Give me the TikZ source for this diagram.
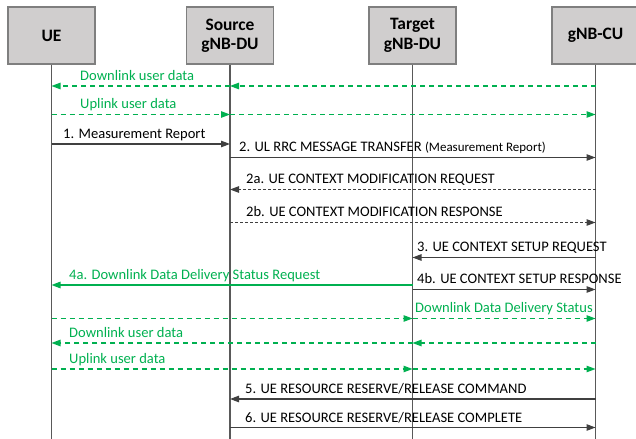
\documentclass[tikz,border=0pt]{standalone}
\usepackage{fontspec}
\setmainfont{Carlito}
\usetikzlibrary{arrows.meta}
\definecolor{boxfill}{HTML}{D0CECE}
\definecolor{boxline}{HTML}{7F7F7F}
\definecolor{lifegray}{HTML}{595959}
\definecolor{msgdark}{HTML}{404040}
\definecolor{msggreen}{HTML}{00B050}
\begin{document}
\begin{tikzpicture}[x=1bp,y=-1bp,
  entity/.style={draw=boxline,fill=boxfill,line width=1.2bp,minimum width=87bp,
    minimum height=57bp,align=center,font=\fontsize{17.5}{19.5}\selectfont\bfseries},
  life/.style={draw=lifegray,line width=1.3bp},
  msg/.style={draw=msgdark,line width=1.1bp,-{Triangle[length=9bp,width=6.5bp]}},
  reply/.style={msg,dash pattern=on 3bp off 2bp},
  data/.style={msg,draw=msggreen,dash pattern=on 5bp off 4bp},
  lbl/.style={anchor=base west,inner sep=0pt,font=\fontsize{14.6}{16}\selectfont}]
\useasboundingbox (0,0) rectangle (636,439);
% entities and lifelines
\node[entity] (ue)  at (51.5,35.5)  {UE};
\node[entity] (src) at (230,35.5)   {Source\\gNB-DU};
\node[entity] (tgt) at (412.5,35.5) {Target\\gNB-DU};
\node[entity] (cu)  at (595.5,35.5) {gNB-CU};
\foreach \n in {ue,src,tgt,cu}
  \draw[life] (\n.south) -- (\n |- 0,439);
% user data before handover
\draw[data] (cu |- 0,86) -- (src |- 0,86);
\draw[data] (src |- 0,86) -- (ue |- 0,86);
\node[lbl,msggreen] (dl1) at (80,80.5) {Downlink user data};
\draw[data] (ue |- 0,114.5) -- (src |- 0,114.5);
\draw[data] (src |- 0,114.5) -- (cu |- 0,114.5);
\node[lbl,msggreen] (ul1) at (80,109) {Uplink user data};
% measurement and context modification
\draw[msg] (ue |- 0,144) -- (src |- 0,144);
\node[lbl] (m1) at (63,138.5) {1. Measurement Report};
\draw[msg] (src |- 0,157.5) -- (cu |- 0,157.5);
\node[lbl] (m2) at (239,152) {2. UL RRC MESSAGE TRANSFER {\fontsize{13}{14}\selectfont(Measurement Report)}};
\draw[reply] (cu |- 0,189.5) -- (src |- 0,189.5);
\node[lbl] (m2a) at (246,184) {2a. UE CONTEXT MODIFICATION REQUEST};
\draw[reply] (src |- 0,222.5) -- (cu |- 0,222.5);
\node[lbl] (m2b) at (246,217) {2b. UE CONTEXT MODIFICATION RESPONSE};
% context setup at target
\draw[msg] (cu |- 0,257.5) -- (tgt |- 0,257.5);
\node[lbl] (m3) at (417,252) {3. UE CONTEXT SETUP REQUEST};
\draw[msg,draw=msggreen,line width=1.3bp] (tgt |- 0,285) -- (ue |- 0,285);
\node[lbl,msggreen] (m4a) at (69,279.5) {4a. Downlink Data Delivery Status Request};
\draw[msg] (tgt |- 0,289.5) -- (cu |- 0,289.5);
\node[lbl] (m4b) at (417,284) {4b. UE CONTEXT SETUP RESPONSE};
% user data after handover
\draw[data] (ue |- 0,318.5) -- (tgt |- 0,318.5);
\draw[data] (tgt |- 0,318.5) -- (cu |- 0,318.5);
\node[lbl,msggreen] (ddds) at (415,313) {Downlink Data Delivery Status};
\draw[data] (cu |- 0,343) -- (tgt |- 0,343);
\draw[data] (tgt |- 0,343) -- (ue |- 0,343);
\node[lbl,msggreen] (dl2) at (69,337.5) {Downlink user data};
\draw[data] (ue |- 0,369) -- (tgt |- 0,369);
\draw[data] (tgt |- 0,369) -- (cu |- 0,369);
\node[lbl,msggreen] (ul2) at (69,363.5) {Uplink user data};
% resource release at source
\draw[msg] (cu |- 0,399) -- (src |- 0,399);
\node[lbl] (m5) at (245,393.5) {5. UE RESOURCE RESERVE/RELEASE COMMAND};
\draw[msg] (src |- 0,427.5) -- (cu |- 0,427.5);
\node[lbl] (m6) at (245,422) {6. UE RESOURCE RESERVE/RELEASE COMPLETE};
\end{tikzpicture}
\end{document}
